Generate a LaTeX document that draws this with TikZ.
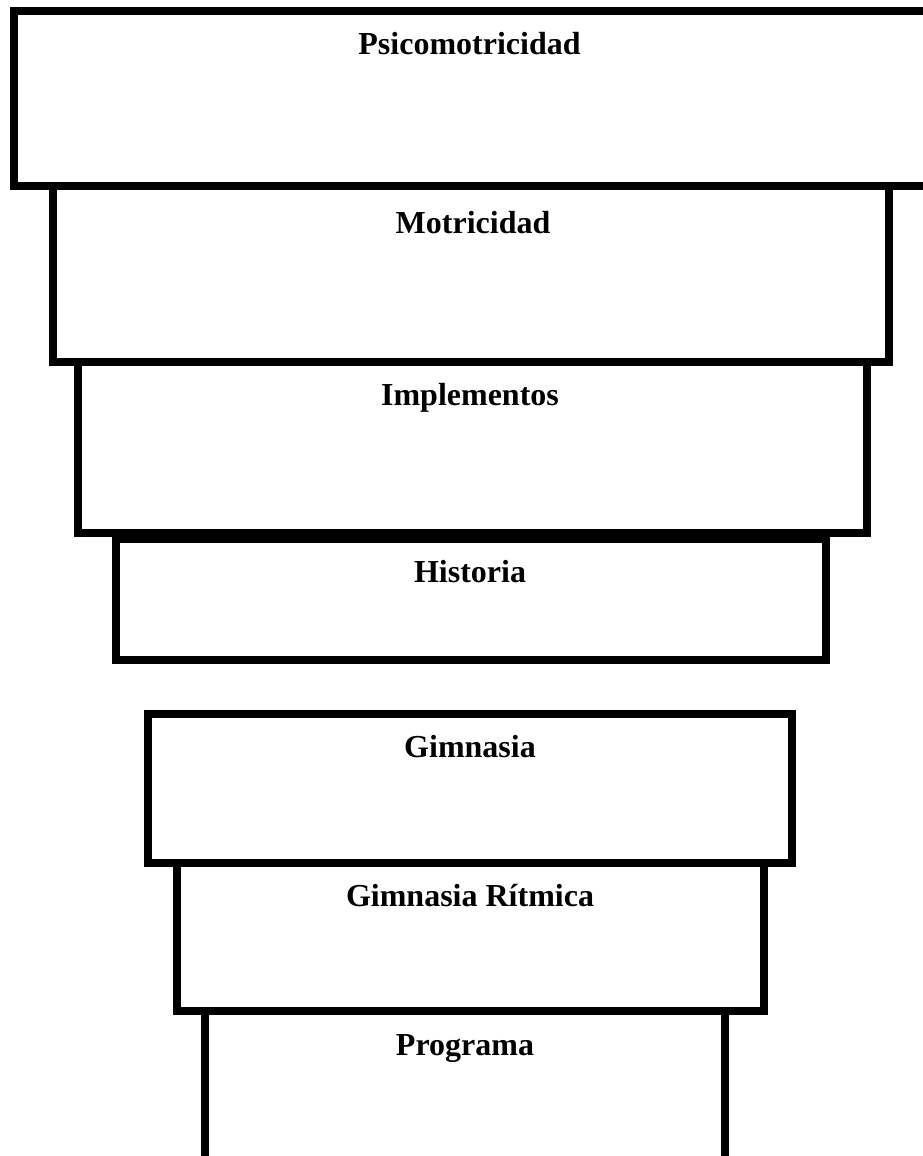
\documentclass[tikz,border=0pt]{standalone}
\usepackage{fontspec}
\setmainfont{Liberation Serif}
\usetikzlibrary{calc,fit,positioning}
\tikzset{
	tema/.style={draw, line width=6pt, inner sep=0pt, outer sep=0pt},
	titulo/.style={anchor=base, inner sep=0pt, font=\fontsize{24}{28}\selectfont\bfseries}
}

\begin{document}
\begin{tikzpicture}[x=0.75pt, y=-0.75pt]
  \useasboundingbox (0,0) rectangle (923,1156);
  % cajas
  \node[tema, fit={(14,11) (935,185.5)}]    (psico) {};
  \node[tema, fit={(53,185.5) (889,362)}]   (motri) {};
  \node[tema, fit={(77.5,362) (867,533)}]   (imple) {};
  \node[tema, fit={(116,539) (825.5,660)}]  (histo) {};
  \node[tema, fit={(148,713.5) (792,862.5)}] (gimna) {};
  \node[tema, fit={(177,862.5) (764,1011)}] (ritmi) {};
  \node[tema, fit={(205,1011) (725,1175)}]  (progr) {};
  % titulos
  \node[titulo] (psicoT) at ($(469.5,11)+(0,44)$)   {Psicomotricidad};
  \node[titulo] (motriT) at ($(473,185.5)+(0,47.5)$) {Motricidad};
  \node[titulo] (impleT) at ($(470,362)+(0,43)$)     {Implementos};
  \node[titulo] (histoT) at ($(470,539)+(0,43)$)     {Historia};
  \node[titulo] (gimnaT) at ($(470,713.5)+(0,44)$)   {Gimnasia};
  \node[titulo] (ritmiT) at ($(470,862.5)+(0,44)$)   {Gimnasia Rítmica};
  \node[titulo] (progrT) at ($(465,1011)+(0,44)$)    {Programa};
\end{tikzpicture}
\end{document}
